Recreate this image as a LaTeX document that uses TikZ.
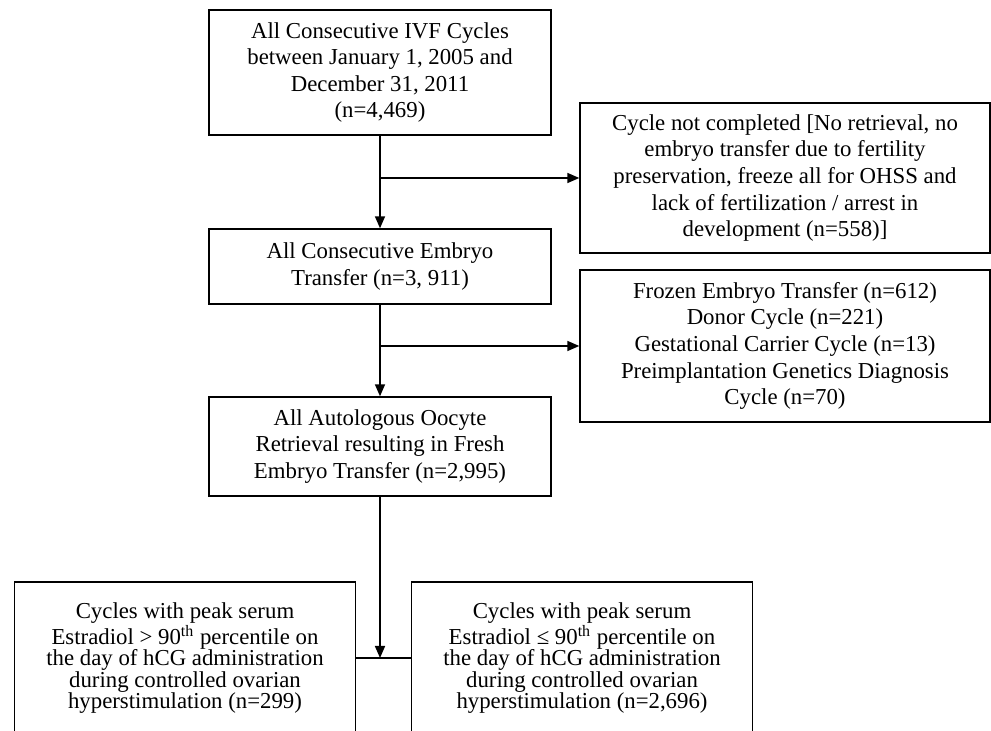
\documentclass[tikz,border=0pt]{standalone}
\usepackage{fontspec}
\setmainfont{Liberation Serif}
\usetikzlibrary{arrows.meta}

\tikzset{
    box/.style={rectangle, draw=black, line width=0.7pt, text=black, align=center, inner sep=0pt, font=\fontsize{11.4}{13.3}\selectfont},
    lowbox/.style={rectangle, draw=none, text=black, align=center, inner sep=0pt, minimum width=170pt, font=\fontsize{11.4}{10.75}\selectfont},
    arr/.style={draw=black, line width=0.8pt, -{Triangle[length=6pt,width=5pt]}}
}

\begin{document}
\begin{tikzpicture}[x=0.5pt, y=-0.5pt]
    \useasboundingbox (0, 0) rectangle (991, 731);
    \clip (0, 0) rectangle (991, 731);

    \node (all)[box, minimum width=171pt, minimum height=62.5pt] at (380, 72.5) {All Consecutive IVF Cycles\\between January 1, 2005 and\\December 31, 2011\\(n=4,469)};
    \node (notdone)[box, minimum width=205pt, minimum height=75pt] at (785, 178) {Cycle not completed [No retrieval, no\\embryo transfer due to fertility\\preservation, freeze all for OHSS and\\lack of fertilization / arrest in\\development (n=558)]};
    \node (et)[box, minimum width=171pt, minimum height=37.5pt] at (380, 266.5) {All Consecutive Embryo\\Transfer (n=3, 911)};
    \node (excl)[box, minimum width=205pt, minimum height=76pt] at (785, 346) {Frozen Embryo Transfer (n=612)\\Donor Cycle (n=221)\\Gestational Carrier Cycle (n=13)\\Preimplantation Genetics Diagnosis\\Cycle (n=70)};
    \node (fresh)[box, minimum width=171pt, minimum height=49.5pt] at (380, 446.5) {All Autologous Oocyte\\Retrieval resulting in Fresh\\Embryo Transfer (n=2,995)};

    \node (high)[lowbox] at (185, 658) {Cycles with peak serum\\Estradiol > 90\textsuperscript{th} percentile on\\the day of hCG administration\\during controlled ovarian\\hyperstimulation (n=299)};
    \node (low)[lowbox] at (582, 658) {Cycles with peak serum\\Estradiol ≤ 90\textsuperscript{th} percentile on\\the day of hCG administration\\during controlled ovarian\\hyperstimulation (n=2,696)};

    \coordinate (top) at (0, 582);
    \coordinate (end) at (0, 760);
    \coordinate (join) at (380, 658);

    % open boxes at the bottom
    \draw [line width=0.7pt] (high.west |- end) -- (high.west |- top) -- (high.east |- top) -- (high.east |- end);
    \draw [line width=0.7pt] (low.west |- end) -- (low.west |- top) -- (low.east |- top) -- (low.east |- end);

    \draw [arr] (all) -- (et);
    \draw [arr] (all.south |- notdone.west) -- (notdone.west);
    \draw [arr] (et) -- (fresh);
    \draw [arr] (et.south |- excl.west) -- (excl.west);
    \draw [arr] (fresh) -- (join);
    \draw [line width=0.8pt] (high.east |- join) -- (low.west |- join);
\end{tikzpicture}
\end{document}
